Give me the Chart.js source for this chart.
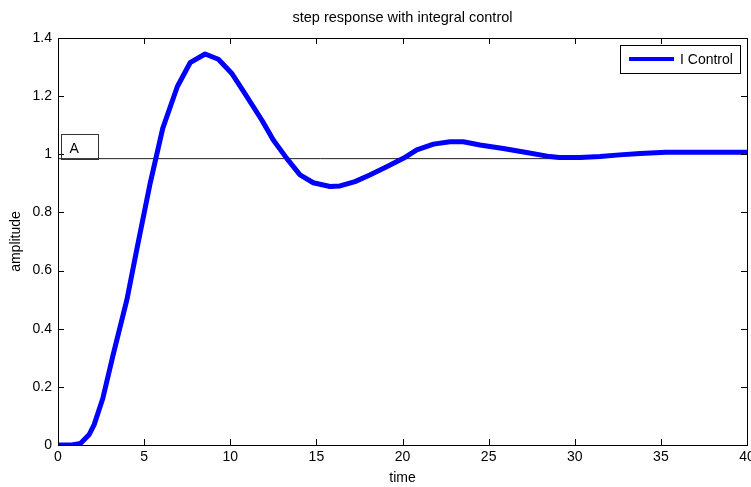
<!DOCTYPE html>
<html>
<head>
<meta charset="utf-8">
<script src="https://cdn.jsdelivr.net/npm/chart.js@4.4.1/dist/chart.umd.min.js"></script>
<style>
html,body{margin:0;padding:0;background:#fff;overflow:hidden;}
#wrap{width:760px;height:487px;}
</style>
</head>
<body>
<div id="wrap"><canvas id="c" width="760" height="487"></canvas></div>
<script>
// ---- data ----
const chartTitle = 'step response with integral control';
const xTitle = 'time';
const yTitle = 'amplitude';
const seriesLabel = 'I Control';
const timeValues = [0, 0.8, 1.3, 1.8, 2.1, 2.6, 3.2, 4.0, 4.6, 5.35, 6.08, 6.93, 7.67, 8.54, 9.31, 10.08, 10.9, 11.83, 12.5, 13.28, 14.05, 14.82, 15.79, 16.37, 17.24, 18.1, 19.08, 20.05, 20.83, 21.8, 22.76, 23.53, 24.5, 25.85, 27.2, 28.56, 29.1, 30.3, 31.47, 32.6, 33.8, 35.3, 36.9, 40];
const amplitudeValues = [0, 0, 0.005, 0.035, 0.07, 0.16, 0.31, 0.50, 0.68, 0.90, 1.089, 1.233, 1.315, 1.345, 1.327, 1.279, 1.204, 1.118, 1.049, 0.986, 0.929, 0.902, 0.889, 0.891, 0.906, 0.929, 0.957, 0.986, 1.015, 1.035, 1.043, 1.043, 1.032, 1.02, 1.006, 0.992, 0.989, 0.989, 0.992, 0.998, 1.003, 1.007, 1.007, 1.007];
const refLineTime = [0, 30.5];
const refLineValue = [0.985, 0.985];
const annotationText = 'A';
const annotationBox = {x0: 0.17, x1: 2.35, y0: 0.985, y1: 1.07};
const xTickValues = [0, 5, 10, 15, 20, 25, 30, 35, 40];
const yTickValues = [0, 0.2, 0.4, 0.6, 0.8, 1, 1.2, 1.4];

const FONT = 'Liberation Sans, Arial, Helvetica, sans-serif';
const FS = 14;

const mainData = timeValues.map((t, i) => ({x: t, y: amplitudeValues[i]}));
const refData = refLineTime.map((t, i) => ({x: t, y: refLineValue[i]}));

const matlabBox = {
  id: 'matlabBox',
  afterDatasetsDraw(chart) {
    const ctx = chart.ctx;
    const a = chart.chartArea;
    const xs = chart.scales.x, ys = chart.scales.y;
    ctx.save();
    // title centred over the axes box
    ctx.fillStyle = '#000';
    ctx.font = '14.5px ' + FONT;
    ctx.textAlign = 'center';
    ctx.textBaseline = 'middle';
    ctx.fillText(chartTitle, (a.left + a.right) / 2, 18);
    ctx.strokeStyle = '#000';
    ctx.lineWidth = 1;
    ctx.beginPath();
    xs.ticks.forEach(tk => {
      const px = Math.round(xs.getPixelForValue(tk.value)) + 0.5;
      ctx.moveTo(px, a.bottom); ctx.lineTo(px, a.bottom - 6);
      ctx.moveTo(px, a.top); ctx.lineTo(px, a.top + 6);
    });
    ys.ticks.forEach(tk => {
      const py = Math.round(ys.getPixelForValue(tk.value)) + 0.5;
      ctx.moveTo(a.left, py); ctx.lineTo(a.left + 6, py);
      ctx.moveTo(a.right, py); ctx.lineTo(a.right - 6, py);
    });
    ctx.stroke();
    ctx.strokeRect(Math.round(a.left) + 0.5, Math.round(a.top) + 0.5, Math.round(a.right - a.left), Math.round(a.bottom - a.top));
    // annotation box "A"
    const bx0 = Math.round(xs.getPixelForValue(annotationBox.x0)) + 0.5;
    const bx1 = Math.round(xs.getPixelForValue(annotationBox.x1)) + 0.5;
    const by0 = Math.round(ys.getPixelForValue(annotationBox.y0)) + 0.5;
    const by1 = Math.round(ys.getPixelForValue(annotationBox.y1)) + 0.5;
    ctx.strokeStyle = '#333';
    ctx.strokeRect(bx0, by1, bx1 - bx0, by0 - by1);
    ctx.fillStyle = '#000';
    ctx.font = FS + 'px ' + FONT;
    ctx.textAlign = 'left';
    ctx.fillText(annotationText, bx0 + 8, (by0 + by1) / 2 + 2);
    // legend
    const lx0 = a.right - 127, ly0 = a.top + 7, lw = 120, lh = 28;
    ctx.fillStyle = '#fff';
    ctx.fillRect(lx0, ly0, lw, lh);
    ctx.strokeStyle = '#000';
    ctx.strokeRect(lx0 + 0.5, ly0 + 0.5, lw, lh);
    ctx.strokeStyle = chart.data.datasets[0].borderColor;
    ctx.lineWidth = 4;
    ctx.beginPath();
    ctx.moveTo(lx0 + 9, ly0 + 14); ctx.lineTo(lx0 + 54, ly0 + 14);
    ctx.stroke();
    ctx.fillStyle = '#000';
    ctx.fillText(chart.data.datasets[0].label, lx0 + 60, ly0 + 15);
    ctx.restore();
  }
};

new Chart(document.getElementById('c'), {
  type: 'line',
  data: {
    datasets: [
      {label: seriesLabel, data: mainData, borderColor: '#0000ff', borderWidth: 5, pointRadius: 0, tension: 0, fill: false, borderJoinStyle: 'round', borderCapStyle: 'round', order: 1},
      {label: 'ref', data: refData, borderColor: '#222', borderWidth: 1, pointRadius: 0, tension: 0, fill: false, order: 2}
    ]
  },
  options: {
    responsive: false,
    animation: false,
    layout: {padding: {left: 0, right: 13, top: 38, bottom: 0}},
    plugins: {
      legend: {display: false},
      tooltip: {enabled: false},
      title: {display: false}
    },
    scales: {
      x: {
        type: 'linear', min: 0, max: 40,
        afterBuildTicks: s => { s.ticks = xTickValues.map(v => ({value: v})); },
        afterFit: s => { s.height = 42; },
        grid: {display: false, drawTicks: false},
        border: {display: false},
        ticks: {color: '#000', padding: 4, font: {family: FONT, size: FS}, maxRotation: 0, autoSkip: false, callback: v => String(v)},
        title: {display: true, text: xTitle, color: '#000', font: {family: FONT, size: FS}, padding: {top: 0, bottom: 0}}
      },
      y: {
        type: 'linear', min: 0, max: 1.4,
        afterBuildTicks: s => { s.ticks = yTickValues.map(v => ({value: v})); },
        afterFit: s => { s.width = 58; },
        grid: {display: false, drawTicks: false},
        border: {display: false},
        ticks: {color: '#000', padding: 6, font: {family: FONT, size: FS}, autoSkip: false, callback: v => String(v)},
        title: {display: true, text: yTitle, color: '#000', font: {family: FONT, size: FS}, padding: {top: 8, bottom: 0}}
      }
    }
  },
  plugins: [matlabBox]
});
</script>
</body>
</html>
